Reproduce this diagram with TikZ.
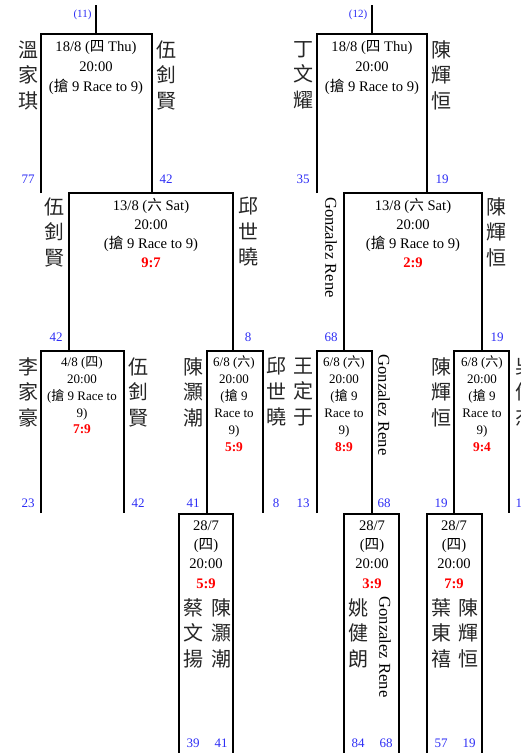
\documentclass[tikz,border=0pt]{standalone}
\usepackage{fontspec}
\setmainfont{Liberation Serif}
\newfontfamily\cjk{Noto Sans CJK TC}
\newcommand\zh[1]{{\cjk #1}}
\definecolor{numblue}{RGB}{45,45,245}
\definecolor{scorered}{RGB}{255,0,0}
\tikzset{
  br/.style={draw,line width=1.8pt,line join=miter},
  ttl/.style={font=\fontsize{14.6}{14.6}\selectfont,anchor=base,inner sep=0pt},
  sml/.style={font=\fontsize{13}{13}\selectfont,anchor=base,inner sep=0pt},
  scr/.style={text=scorered,font=\bfseries\fontsize{14.6}{14.6}\selectfont,anchor=base,inner sep=0pt},
  scrs/.style={text=scorered,font=\bfseries\fontsize{13.4}{13.4}\selectfont,anchor=base,inner sep=0pt},
  nm/.style={font=\cjk\fontsize{20}{25.5}\selectfont,align=center,inner sep=0pt,text=black!85},
  num/.style={text=numblue,font=\fontsize{13}{13}\selectfont,anchor=base,inner sep=0pt},
  seed/.style={text=numblue,font=\fontsize{11}{11}\selectfont,anchor=base,inner sep=0pt},
  gz/.style={font=\fontsize{16.6}{16.6}\selectfont,rotate=-90,inner sep=0pt}
}
\begin{document}
\begin{tikzpicture}[x=1pt,y=-1pt]
\useasboundingbox (0,0) rectangle (520,753);
\clip (0,0) rectangle (520,753);
% ---------- brackets ----------
\coordinate (s1) at (96,5);
\coordinate (s2) at (372,5);
\draw[br] (s1) -- (96,34);
\draw[br] (s2) -- (372,34);
\draw[br] (41,193) |- (152,34) -- (152,193);
\draw[br] (317,193) |- (427,34) -- (427,193);
\draw[br] (69,351) |- (233,193) -- (233,351);
\draw[br] (344,351) |- (482,193) -- (482,351);
\draw[br] (41,513) |- (124,351) -- (124,513);
\draw[br] (207,514) |- (263,351) -- (263,513);
\draw[br] (317,513) |- (372,351) -- (372,514);
\draw[br] (454,514) |- (509,351) -- (509,513);
\draw[br] (179,753) |- (233,514) -- (233,753);
\draw[br] (344,753) |- (399,514) -- (399,753);
\draw[br] (427,753) |- (482,514) -- (482,753);
% ---------- row 1 ----------
\node[seed] (sd11) at (82.5,17) {(11)};
\node[seed] (sd12) at (358,17) {(12)};
\node[ttl] (a1) at (96,51.5) {18/8 (\zh{四} Thu)};
\node[ttl] (a2) at (96,71.5) {20:00};
\node[ttl] (a3) at (96,91.5) {(\zh{搶} 9 Race to 9)};
\node[nm] (an1) at (28,75) {溫\\家\\琪};
\node[nm] (an2) at (166,75) {伍\\釗\\賢};
\node[num] (ak1) at (28,183) {77};
\node[num] (ak2) at (166,183) {42};
\node[ttl] (b1) at (372,51.5) {18/8 (\zh{四} Thu)};
\node[ttl] (b2) at (372,71.5) {20:00};
\node[ttl] (b3) at (372,91.5) {(\zh{搶} 9 Race to 9)};
\node[nm] (bn1) at (303,75) {丁\\文\\耀};
\node[nm] (bn2) at (441,75) {陳\\輝\\恒};
\node[num] (bk1) at (303,183) {35};
\node[num] (bk2) at (442,183) {19};
% ---------- row 2 ----------
\node[ttl] (c1) at (151,210) {13/8 (\zh{六} Sat)};
\node[ttl] (c2) at (151,229) {20:00};
\node[ttl] (c3) at (151,248.5) {(\zh{搶} 9 Race to 9)};
\node[scr] (c4) at (151,267) {9:7};
\node[nm] (cn1) at (55,232) {伍\\釗\\賢};
\node[nm] (cn2) at (248,232) {邱\\世\\曉};
\node[num] (ck1) at (56,341) {42};
\node[num] (ck2) at (248,341) {8};
\node[ttl] (d1) at (413,210) {13/8 (\zh{六} Sat)};
\node[ttl] (d2) at (413,229) {20:00};
\node[ttl] (d3) at (413,248.5) {(\zh{搶} 9 Race to 9)};
\node[scr] (d4) at (413,267) {2:9};
\node[gz] (dn1) at (331,247.5) {Gonzalez Rene};
\node[nm] (dn2) at (496,232) {陳\\輝\\恒};
\node[num] (dk1) at (331,341) {68};
\node[num] (dk2) at (497,341) {19};
% ---------- row 3 ----------
\node[sml] (e1) at (82,366) {4/8 (\zh{四})};
\node[sml] (e2) at (82,383) {20:00};
\node[sml] (e3) at (82,400) {(\zh{搶} 9 Race to};
\node[sml] (e4) at (82,417) {9)};
\node[scrs] (e5) at (82,433.5) {7:9};
\node[nm] (en1) at (28,392) {李\\家\\豪};
\node[nm] (en2) at (138,392) {伍\\釗\\賢};
\node[num] (ek1) at (28,507) {23};
\node[num] (ek2) at (138,507) {42};
\node[sml] (f1) at (234,366) {6/8 (\zh{六})};
\node[sml] (f2) at (234,383) {20:00};
\node[sml] (f3) at (234,400) {(\zh{搶} 9};
\node[sml] (f4) at (234,417) {Race to};
\node[sml] (f5) at (234,434) {9)};
\node[scrs] (f6) at (234,451) {5:9};
\node[nm] (fn1) at (193,392) {陳\\灝\\潮};
\node[nm] (fn2) at (276,392) {邱\\世\\曉};
\node[num] (fk1) at (193,507) {41};
\node[num] (fk2) at (276,507) {8};
\node[sml] (g1) at (344,366) {6/8 (\zh{六})};
\node[sml] (g2) at (344,383) {20:00};
\node[sml] (g3) at (344,400) {(\zh{搶} 9};
\node[sml] (g4) at (344,417) {Race to};
\node[sml] (g5) at (344,434) {9)};
\node[scrs] (g6) at (344,451) {8:9};
\node[nm] (gn1) at (303,392) {王\\定\\于};
\node[gz] (gn2) at (384,405) {Gonzalez Rene};
\node[num] (gk1) at (303,507) {13};
\node[num] (gk2) at (384,507) {68};
\node[sml] (h1) at (482,366) {6/8 (\zh{六})};
\node[sml] (h2) at (482,383) {20:00};
\node[sml] (h3) at (482,400) {(\zh{搶} 9};
\node[sml] (h4) at (482,417) {Race to};
\node[sml] (h5) at (482,434) {9)};
\node[scrs] (h6) at (482,451) {9:4};
\node[nm] (hn1) at (441,392) {陳\\輝\\恒};
\node[nm] (hn2) at (525,392) {吳\\偉\\杰};
\node[num] (hk1) at (441,507) {19};
\node[num,anchor=base west] (hk2) at (515.5,507) {1};
% ---------- bottom row ----------
\node[ttl] (i1) at (206,530) {28/7};
\node[ttl] (i2) at (206,549.5) {(\zh{四})};
\node[ttl] (i3) at (206,568) {20:00};
\node[scr] (i4) at (206,588) {5:9};
\node[nm] (in1) at (193,633) {蔡\\文\\揚};
\node[nm] (in2) at (221,633) {陳\\灝\\潮};
\node[num] (ik1) at (193,747) {39};
\node[num] (ik2) at (221,747) {41};
\node[ttl] (j1) at (372,530) {28/7};
\node[ttl] (j2) at (372,549.5) {(\zh{四})};
\node[ttl] (j3) at (372,568) {20:00};
\node[scr] (j4) at (372,588) {3:9};
\node[nm] (jn1) at (358,633) {姚\\健\\朗};
\node[gz] (jn2) at (385,647) {Gonzalez Rene};
\node[num] (jk1) at (358,747) {84};
\node[num] (jk2) at (386,747) {68};
\node[ttl] (k1) at (454,530) {28/7};
\node[ttl] (k2) at (454,549.5) {(\zh{四})};
\node[ttl] (k3) at (454,568) {20:00};
\node[scr] (k4) at (454,588) {7:9};
\node[nm] (kn1) at (441,633) {葉\\東\\禧};
\node[nm] (kn2) at (468,633) {陳\\輝\\恒};
\node[num] (kk1) at (441,747) {57};
\node[num] (kk2) at (469,747) {19};
\end{tikzpicture}
\end{document}
